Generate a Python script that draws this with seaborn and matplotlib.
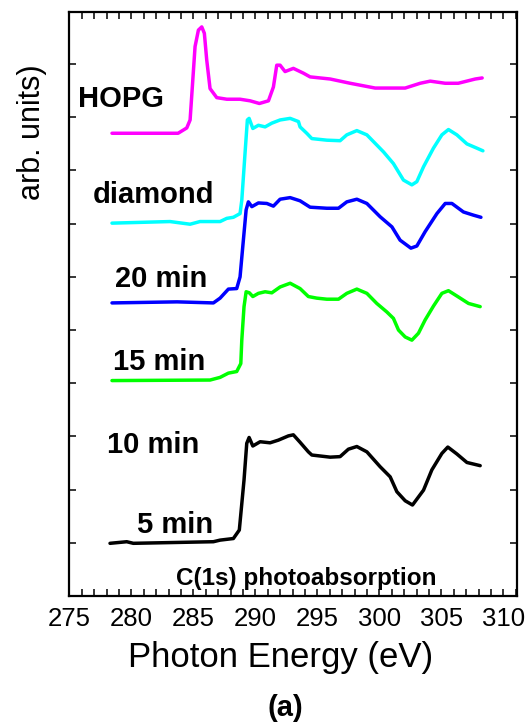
import numpy as np
import pandas as pd
import matplotlib
matplotlib.use("Agg")
import matplotlib.pyplot as plt
from matplotlib import font_manager
from matplotlib.ticker import MultipleLocator
import seaborn as sns

# C(1s) NEXAFS spectra, stacked (photon energy in eV, offset intensity in arb. units)
hopg_e = [278.43, 283.76, 284.46, 284.73, 285.13, 285.40, 285.67, 285.88, 286.07, 286.34,
          286.88, 287.69, 288.76, 289.57, 290.32, 291.05, 291.45, 291.72, 291.99, 292.39,
          293.06, 293.87, 294.41, 296.03, 297.64, 299.66, 302.08, 303.29, 304.10, 305.31,
          306.36, 307.73, 308.29]
hopg_i = [8.70, 8.70, 8.80, 8.95, 10.33, 10.64, 10.70, 10.58, 10.08, 9.54,
          9.37, 9.34, 9.34, 9.31, 9.26, 9.31, 9.57, 9.98, 9.98, 9.86,
          9.92, 9.83, 9.76, 9.72, 9.64, 9.55, 9.55, 9.64, 9.68, 9.64,
          9.64, 9.72, 9.74]

diamond_e = [278.43, 283.11, 284.73, 285.53, 287.15, 287.69, 288.22, 288.76, 288.90, 289.16,
             289.35, 289.49, 289.79, 290.24, 290.78, 291.32, 291.99, 292.80, 293.47, 293.60,
             294.14, 294.55, 295.76, 296.83, 297.37, 298.18, 298.99, 300.33, 301.13, 301.94,
             302.62, 303.02, 303.56, 304.36, 305.04, 305.57, 306.25, 307.06, 307.86, 308.35]
diamond_i = [7.01, 7.04, 6.99, 7.04, 7.04, 7.10, 7.12, 7.19, 7.44, 8.32,
             8.95, 8.98, 8.79, 8.85, 8.82, 8.89, 8.95, 8.98, 8.92, 8.82,
             8.70, 8.60, 8.57, 8.56, 8.67, 8.75, 8.67, 8.35, 8.13, 7.82,
             7.73, 7.79, 8.07, 8.42, 8.67, 8.77, 8.67, 8.50, 8.42, 8.37]

min20_e = [278.43, 283.68, 286.61, 287.15, 287.82, 288.49, 288.76, 288.98, 289.25, 289.43,
           289.71, 290.24, 290.92, 291.45, 291.99, 292.80, 293.60, 294.41, 295.76, 296.70,
           297.37, 298.18, 298.99, 300.06, 301.01, 301.67, 302.54, 303.02, 303.69, 304.64,
           305.31, 305.85, 306.78, 307.59, 308.19]
min20_i = [5.51, 5.53, 5.51, 5.60, 5.77, 5.78, 6.00, 6.57, 7.26, 7.41,
           7.32, 7.39, 7.38, 7.33, 7.46, 7.49, 7.43, 7.31, 7.29, 7.29,
           7.41, 7.46, 7.38, 7.13, 6.94, 6.69, 6.54, 6.58, 6.85, 7.19,
           7.38, 7.38, 7.22, 7.16, 7.12]

min15_e = [278.43, 286.34, 287.15, 287.82, 288.49, 288.82, 288.90, 289.08, 289.25, 289.51,
           289.79, 290.24, 290.78, 291.32, 291.99, 292.80, 293.60, 294.27, 294.95, 295.76,
           296.70, 297.37, 298.18, 298.99, 299.79, 300.60, 301.13, 301.54, 302.08, 302.62,
           303.15, 303.69, 304.36, 305.04, 305.57, 306.25, 307.19, 308.13]
min15_i = [4.05, 4.06, 4.11, 4.19, 4.22, 4.37, 4.81, 5.44, 5.72, 5.70,
           5.63, 5.69, 5.72, 5.70, 5.81, 5.88, 5.78, 5.63, 5.60, 5.58,
           5.58, 5.69, 5.77, 5.69, 5.50, 5.34, 5.22, 5.00, 4.87, 4.81,
           4.94, 5.19, 5.45, 5.69, 5.74, 5.64, 5.50, 5.44]

min5_e = [278.27, 279.62, 280.15, 286.61, 287.15, 288.22, 288.70, 289.08, 289.30, 289.49,
          289.79, 290.38, 291.18, 291.85, 292.66, 293.06, 293.60, 294.27, 294.55, 296.03,
          296.83, 297.50, 298.18, 298.99, 300.06, 300.87, 301.41, 302.08, 302.67, 303.56,
          304.23, 305.04, 305.52, 306.25, 307.06, 308.13]
min5_i = [0.99, 1.02, 0.99, 1.02, 1.05, 1.08, 1.24, 2.18, 2.87, 2.98,
          2.82, 2.90, 2.88, 2.93, 3.01, 3.03, 2.89, 2.71, 2.65, 2.61,
          2.62, 2.76, 2.81, 2.71, 2.43, 2.24, 1.96, 1.79, 1.71, 1.99,
          2.37, 2.68, 2.80, 2.67, 2.51, 2.45]

series = ["HOPG", "diamond", "20 min", "15 min", "5 min"]
colors = ["#ff00ff", "#00ffff", "#0000ff", "#00ff00", "#000000"]

labels = ["HOPG", "diamond", "20 min", "15 min", "10 min", "5 min"]
label_x = [275.69, 276.90, 278.67, 278.51, 278.03, 280.45]
label_y = [9.19, 7.39, 5.81, 4.25, 2.69, 1.18]

frames = []
for name, e, i in zip(series,
                      [hopg_e, diamond_e, min20_e, min15_e, min5_e],
                      [hopg_i, diamond_i, min20_i, min15_i, min5_i]):
    frames.append(pd.DataFrame({"energy": e, "intensity": i, "sample": name}))
df = pd.concat(frames, ignore_index=True)

sns.set_style("ticks")
plt.rcParams['font.family'] = ['Liberation Sans', 'DejaVu Sans']
plt.rcParams['text.color'] = 'black'
plt.rcParams['xtick.color'] = 'black'
plt.rcParams['ytick.color'] = 'black'
plt.rcParams['axes.edgecolor'] = 'black'

# tick labels in the original look like a narrow sans
installed = {f.name for f in font_manager.fontManager.ttflist}
if 'Liberation Sans Narrow' in installed:
    tick_font = 'Liberation Sans Narrow'
    tick_size = 20
else:
    tick_font = 'Liberation Sans'
    tick_size = 18.5

fig = plt.figure(figsize=(5.32, 7.23), dpi=100)
ax = fig.add_axes([0.1306, 0.1757, 0.8412, 0.8077])

sns.lineplot(data=df, x="energy", y="intensity", hue="sample", units="sample",
             estimator=None, sort=False, palette=dict(zip(series, colors)),
             lw=2.5, legend=False, ax=ax)

for txt, x, y in zip(labels, label_x, label_y):
    ax.text(x, y, txt, fontsize=21, fontweight="bold", ha="left", va="baseline")
ax.text(294.09, 0.21, "C(1s) photoabsorption", fontsize=17.5, fontweight="bold",
        ha="center", va="baseline")

ax.set_xlim(275, 311.1)
ax.set_ylim(0, 10.98)
ax.xaxis.set_major_locator(MultipleLocator(5))
ax.xaxis.set_minor_locator(MultipleLocator(1))
ax.yaxis.set_major_locator(MultipleLocator(1))
ax.set_yticklabels([])
ax.tick_params(axis="both", which="both", direction="in", top=True, right=True,
               length=5, width=1.1, color="black")
ax.tick_params(axis="x", which="major", pad=8, labelsize=tick_size,
               labelfontfamily=tick_font)
ax.set_xlabel("")
ax.set_ylabel("")
for sp in ax.spines.values():
    sp.set_linewidth(1.6)

fig.text(0.528, 0.0775, "Photon Energy (eV)", fontsize=25, ha="center", va="baseline")
fig.text(0.536, 0.0097, "(a)", fontsize=21, fontweight="bold", ha="center", va="baseline")
fig.text(0.060, 0.8174, "arb. units)", fontsize=22, rotation=90, ha="center", va="center")

plt.savefig("out.png", dpi=100)
